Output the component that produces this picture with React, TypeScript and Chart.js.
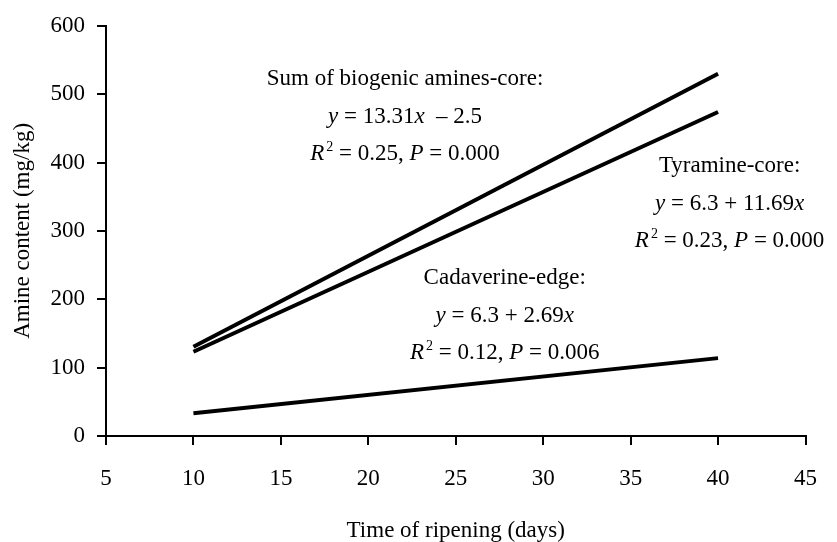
import React, { useEffect, useRef } from "react";
import { Chart, registerables } from "chart.js";

Chart.register(...registerables);

// ---- data ----
const days = [10, 40];
const sumAmines = [130.6, 529.9];
const tyramine = [123.2, 473.9];
const cadaverine = [33.2, 113.9];

const xMin = 5;
const xMax = 45;
const xStep = 5;
const yMin = 0;
const yMax = 600;
const yStep = 100;

const xTitle = "Time of ripening (days)";
const yTitle = "Amine content (mg/kg)";

type Seg = { t: string; i?: boolean; sup?: boolean };

const sumNote: Seg[][] = [
  [{ t: "Sum of biogenic amines-core:" }],
  [{ t: "y", i: true }, { t: " = 13.31" }, { t: "x", i: true }, { t: "  \u2013 2.5" }],
  [{ t: "R", i: true }, { t: "2", sup: true }, { t: " = 0.25, " }, { t: "P", i: true }, { t: " = 0.000" }],
];
const tyramineNote: Seg[][] = [
  [{ t: "Tyramine-core:" }],
  [{ t: "y", i: true }, { t: " = 6.3 + 11.69" }, { t: "x", i: true }],
  [{ t: "R", i: true }, { t: "2", sup: true }, { t: " = 0.23, " }, { t: "P", i: true }, { t: " = 0.000" }],
];
const cadaverineNote: Seg[][] = [
  [{ t: "Cadaverine-edge:" }],
  [{ t: "y", i: true }, { t: " = 6.3 + 2.69" }, { t: "x", i: true }],
  [{ t: "R", i: true }, { t: "2", sup: true }, { t: " = 0.12, " }, { t: "P", i: true }, { t: " = 0.006" }],
];

// anchor of each note (data coords: centre x, baseline of first line)
const noteAnchorX = [22.1, 40.66, 27.8];
const noteAnchorY = [513, 385.5, 221.7];
const notes = [sumNote, tyramineNote, cadaverineNote];

const FONT = "'Liberation Serif', 'Times New Roman', serif";
const FS = 23;

const notesPlugin = {
  id: "notes",
  afterDraw(chart: any) {
    const ctx = chart.ctx as CanvasRenderingContext2D;
    const xs = chart.scales.x;
    const ys = chart.scales.y;
    ctx.save();
    ctx.fillStyle = "#000";
    ctx.textBaseline = "alphabetic";
    ctx.textAlign = "left";
    const fontOf = (s: Seg) =>
      s.sup ? `${Math.round(FS * 0.62)}px ${FONT}` : `${s.i ? "italic " : ""}${FS}px ${FONT}`;
    notes.forEach((lines, n) => {
      const cx = xs.getPixelForValue(noteAnchorX[n]);
      const by = ys.getPixelForValue(noteAnchorY[n]);
      lines.forEach((segs, li) => {
        let w = 0;
        segs.forEach((s) => {
          ctx.font = fontOf(s);
          w += ctx.measureText(s.t).width + (s.sup ? 2 : 0);
        });
        let x = cx - w / 2;
        const y = by + li * 37.5;
        segs.forEach((s) => {
          ctx.font = fontOf(s);
          if (s.sup) x += 2;
          ctx.fillText(s.t, x, s.sup ? y - 9 : y);
          x += ctx.measureText(s.t).width;
        });
      });
    });
    ctx.restore();
  },
};

export default function App() {
  const ref = useRef<HTMLCanvasElement | null>(null);
  useEffect(() => {
    if (!ref.current) return;
    const line = (data: number[]) => ({
      data: days.map((d, i) => ({ x: d, y: data[i] })),
      borderColor: "#000",
      borderWidth: 4,
      pointRadius: 0,
      fill: false,
      tension: 0,
    });
    const chart = new Chart(ref.current, {
      type: "line",
      data: {
        datasets: [line(sumAmines), line(tyramine), line(cadaverine)],
      },
      options: {
        responsive: false,
        animation: false,
        layout: { padding: { left: 0, top: 24, right: 30, bottom: 0 } },
        plugins: { legend: { display: false }, tooltip: { enabled: false } },
        scales: {
          x: {
            type: "linear",
            min: xMin,
            max: xMax,
            ticks: { stepSize: xStep, color: "#000", padding: 20, font: { family: FONT, size: FS }, maxRotation: 0 },
            grid: { drawOnChartArea: false, drawTicks: true, tickLength: 9, color: "#000", lineWidth: 2 },
            border: { display: true, color: "#000", width: 2 },
            title: {
              display: true,
              text: xTitle,
              color: "#000",
              font: { family: FONT, size: FS, lineHeight: 1 },
              padding: { top: 0, bottom: 0 },
            },
            afterFit: (s: any) => {
              s.height = 106;
            },
          },
          y: {
            type: "linear",
            min: yMin,
            max: yMax,
            ticks: { stepSize: yStep, color: "#000", padding: 12, font: { family: FONT, size: FS } },
            grid: { drawOnChartArea: false, drawTicks: true, tickLength: 9, color: "#000", lineWidth: 2 },
            border: { display: true, color: "#000", width: 2 },
            title: { display: true, text: yTitle, color: "#000", font: { family: FONT, size: FS }, padding: { top: 9, bottom: 0 } },
            afterFit: (s: any) => {
              s.width = 106;
            },
          },
        },
      },
      plugins: [notesPlugin],
    } as any);
    return () => chart.destroy();
  }, []);
  return (
    <div style={{ position: "fixed", left: 0, top: 0, width: 837, height: 542, background: "#fff" }}>
      <canvas ref={ref} width={837} height={542} style={{ display: "block" }} />
    </div>
  );
}
